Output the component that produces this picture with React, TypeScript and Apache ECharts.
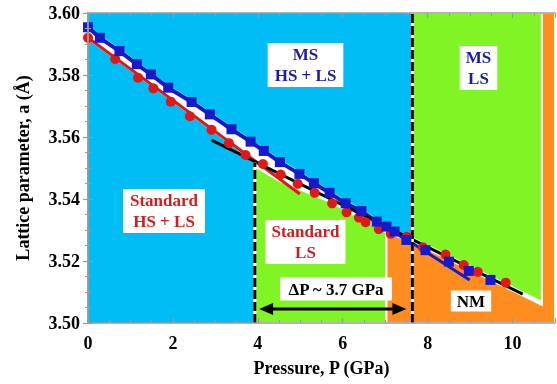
import React, { useEffect, useRef } from 'react';
import * as echarts from 'echarts';

// ---- Data ----
// MS method (blue squares)
const msP = [0.0, 0.28, 0.74, 1.15, 1.48, 1.89, 2.44, 2.87, 3.38, 3.83, 4.14, 4.52, 4.98, 5.32, 5.69, 6.07, 6.44, 6.8, 7.03, 7.22, 7.5, 7.95, 8.5, 8.97, 9.48];
const msA = [3.5954, 3.592, 3.5877, 3.5835, 3.5802, 3.5759, 3.5713, 3.5673, 3.5625, 3.5585, 3.5555, 3.5519, 3.5481, 3.5451, 3.542, 3.5386, 3.5361, 3.5327, 3.5311, 3.5295, 3.5268, 3.5235, 3.5198, 3.5168, 3.5139];
// Standard method (red circles)
const stdP = [0.0, 0.64, 1.18, 1.54, 1.95, 2.4, 2.91, 3.32, 3.71, 4.12, 4.54, 4.94, 5.34, 5.75, 6.09, 6.38, 6.54, 6.85, 7.13, 7.51, 7.89, 8.42, 8.85, 9.18, 9.84];
const stdA = [3.592, 3.5852, 3.5791, 3.5757, 3.5714, 3.5667, 3.5623, 3.558, 3.5542, 3.5513, 3.5479, 3.5449, 3.542, 3.5386, 3.5357, 3.534, 3.5325, 3.5303, 3.5288, 3.5278, 3.5244, 3.5221, 3.5187, 3.5165, 3.513];
// fit lines
const stdFitP = [0.0, 4.99];
const stdFitA = [3.592, 3.5416];
const lsFitP = [2.91, 10.24];
const lsFitA = [3.559, 3.5093];
const nmFitP = [7.58, 8.99];
const nmFitA = [3.5263, 3.5139];
const msLineEnd = 7.5;

// transitions
const stdTransition = 3.93;
const msTransition = 7.64;
const stdTransitionTop = 3.5518;
const arrowP = [4.03, 7.5];
const arrowA = 3.5045;

// phase regions (P, a)
const greenLowPoly = [[3.93, 3.5], [3.93, 3.5505], [4.52, 3.5458], [5.69, 3.5392], [7.03, 3.5292], [7.03, 3.5]];
const orangePoly = [[7.03, 3.5], [7.03, 3.5292], [7.64, 3.5262], [10.69, 3.5058], [10.69, 3.6], [11, 3.6], [11, 3.5]];
const greenHighPoly = [[7.64, 3.6], [10.69, 3.6], [10.69, 3.5068], [7.64, 3.5274]];
const cyanPoly = [[0, 3.5], [0, 3.6], [7.64, 3.6], [7.64, 3.5]];

const xMin = 0, xMax = 11, xStep = 2;
const yMin = 3.5, yMax = 3.6, yStep = 0.02;

const CYAN = '#00bdf6';
const GREEN = '#80f424';
const ORANGE = '#ff8c1e';
const BLUE = '#1818cc';
const RED = '#e01818';
const TBLUE = '#1a1ab0';
const TRED = '#d41c1c';
const FONT = '"Liberation Serif", "Times New Roman", serif';

const pairs = (p: number[], a: number[]) => p.map((v, i) => [v, a[i]]);

export default function App() {
  const ref = useRef<HTMLDivElement>(null);
  useEffect(() => {
    if (!ref.current) return;
    const chart = echarts.init(ref.current, undefined, { renderer: 'svg' });

    const msLine = pairs(msP, msA).filter((d) => d[0] <= msLineEnd);
    const stdAt = (p: number) => stdFitA[0] + ((stdFitA[1] - stdFitA[0]) / (stdFitP[1] - stdFitP[0])) * (p - stdFitP[0]);
    const bandUpper = msLine.map((d) => [d[0], d[1] + 0.0009]).concat([[msTransition, 3.5267]]);
    const bandLower = [
      [msTransition, 3.5262], [7.03, 3.5292], [5.69, 3.5392], [4.52, 3.5458], [3.93, 3.5505],
      [3.93, stdAt(3.93) - 0.0006], [0, stdAt(0) - 0.0006],
    ];
    const whiteBand = bandUpper.concat(bandLower);

    const axisGray = '#9a9a9a';
    const tickStyle = { show: true, inside: true, length: 5, lineStyle: { color: axisGray, width: 1.2 } };
    const minorStyle = { show: true, splitNumber: 4, length: 3, lineStyle: { color: axisGray, width: 1 } };
    const labelFont = { fontFamily: FONT, fontWeight: 'bold' as const, fontSize: 18, color: '#000' };

    const label = (text: string, x: number, y: number, fill: string, padding: number[]) => ({
      type: 'text', x, y, z: 100,
      style: {
        text, fill, font: `bold 17px ${FONT}`, align: 'center', verticalAlign: 'middle',
        lineHeight: 21, backgroundColor: '#fff', padding,
      },
    });

    chart.setOption({
      animation: false,
      grid: { left: 88, top: 13, right: 2, bottom: 61 },
      xAxis: [
        {
          type: 'value', min: xMin, max: xMax, interval: xStep, position: 'bottom', z: 10,
          name: 'Pressure, P (GPa)', nameLocation: 'middle', nameGap: 36,
          nameTextStyle: { ...labelFont, fontSize: 18 },
          axisLine: { show: true, lineStyle: { color: axisGray, width: 1.5 } },
          axisTick: tickStyle, minorTick: minorStyle, splitLine: { show: false },
          axisLabel: { ...labelFont, margin: 11, showMaxLabel: false },
        },
        {
          type: 'value', min: xMin, max: xMax, interval: xStep, position: 'top', z: 10,
          axisLine: { show: true, lineStyle: { color: axisGray, width: 1.5 } },
          axisTick: tickStyle, minorTick: minorStyle, splitLine: { show: false },
          axisLabel: { show: false },
        },
      ],
      yAxis: [
        {
          type: 'value', min: yMin, max: yMax, interval: yStep, position: 'left', z: 10,
          name: 'Lattice parameter, a (Å)', nameLocation: 'middle', nameGap: 56,
          nameTextStyle: { ...labelFont, fontSize: 18 },
          axisLine: { show: true, lineStyle: { color: axisGray, width: 1.5 } },
          axisTick: tickStyle, minorTick: minorStyle, splitLine: { show: false },
          axisLabel: { ...labelFont, margin: 8, formatter: (v: number) => v.toFixed(2) },
        },
        {
          type: 'value', min: yMin, max: yMax, interval: yStep, position: 'right', z: 10,
          axisLine: { show: true, lineStyle: { color: axisGray, width: 1.5 } },
          axisTick: tickStyle, minorTick: minorStyle, splitLine: { show: false },
          axisLabel: { show: false },
        },
      ],
      series: [
        {
          type: 'custom', z: 1, silent: true, data: [[0, 3.5]],
          renderItem: (params: any, api: any) => {
            const poly = (pts: number[][], fill: string, stroke: string | null) => ({
              type: 'polygon',
              shape: { points: pts.map((p) => api.coord(p)) },
              style: { fill, stroke: stroke || 'none', lineWidth: 2 },
            });
            return {
              type: 'group',
              children: [
                poly(cyanPoly, CYAN, null),
                poly(whiteBand, '#ffffff', null),
                poly(greenLowPoly, GREEN, '#ffffff'),
                poly(orangePoly, ORANGE, '#ffffff'),
                poly(greenHighPoly, GREEN, '#ffffff'),
              ],
            };
          },
        },
        {
          type: 'line', z: 3, data: msLine, symbol: 'none',
          lineStyle: { color: BLUE, width: 4 },
        },
        {
          type: 'line', z: 3, data: pairs(stdFitP, stdFitA), symbol: 'none',
          lineStyle: { color: RED, width: 3 },
        },
        {
          type: 'line', z: 3, data: pairs(lsFitP, lsFitA), symbol: 'none',
          lineStyle: { color: '#000', width: 3 },
        },
        {
          type: 'line', z: 3, data: pairs(nmFitP, nmFitA), symbol: 'none',
          lineStyle: { color: BLUE, width: 3 },
        },
        {
          type: 'custom', z: 4, silent: true, data: [[0, 3.5]],
          renderItem: (params: any, api: any) => {
            const seg = (p1: number[], p2: number[]) => {
              const a = api.coord(p1);
              const b = api.coord(p2);
              return [
                { type: 'line', shape: { x1: a[0], y1: a[1], x2: b[0], y2: b[1] }, style: { stroke: '#fff', lineWidth: 3 } },
                { type: 'line', shape: { x1: a[0], y1: a[1], x2: b[0], y2: b[1] }, style: { stroke: '#000', lineWidth: 3, lineDash: [9, 3] } },
              ];
            };
            const l = api.coord([arrowP[0], arrowA]);
            const r = api.coord([arrowP[1], arrowA]);
            const hl = 14, hw = 6;
            return {
              type: 'group',
              children: [
                ...seg([stdTransition, yMin], [stdTransition, stdTransitionTop]),
                ...seg([msTransition, yMin], [msTransition, yMax]),
                { type: 'line', shape: { x1: l[0] + hl - 2, y1: l[1], x2: r[0] - hl + 2, y2: r[1] }, style: { stroke: '#000', lineWidth: 3 } },
                { type: 'polygon', shape: { points: [[l[0], l[1]], [l[0] + hl, l[1] - hw], [l[0] + hl, l[1] + hw]] }, style: { fill: '#000' } },
                { type: 'polygon', shape: { points: [[r[0], r[1]], [r[0] - hl, r[1] - hw], [r[0] - hl, r[1] + hw]] }, style: { fill: '#000' } },
              ],
            };
          },
        },
        {
          type: 'scatter', z: 5, data: pairs(stdP, stdA), symbol: 'circle', symbolSize: 10, clip: false,
          itemStyle: { color: RED, opacity: 1 },
        },
        {
          type: 'scatter', z: 5, data: pairs(msP, msA), symbol: 'rect', symbolSize: 10, clip: false,
          itemStyle: { color: BLUE, opacity: 1 },
        },
      ],
      graphic: [
        label('MS\nHS + LS', 305.5, 65, TBLUE, [1, 7]),
        label('MS\nLS', 478.5, 68, TBLUE, [1, 6]),
        label('Standard\nHS + LS', 164, 211, TRED, [1, 7]),
        label('Standard\nLS', 305.5, 242, TRED, [1, 6]),
        label('ΔP ~ 3.7 GPa', 336, 289, '#000', [1, 8]),
        label('NM', 471, 301, '#000', [0, 6]),
      ],
    });
    return () => chart.dispose();
  }, []);
  return <div ref={ref} style={{ position: 'fixed', left: 0, top: 0, width: 557, height: 384 }} />;
}
